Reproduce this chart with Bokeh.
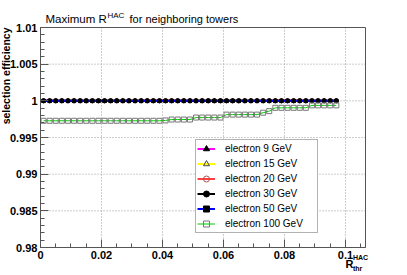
from bokeh.plotting import figure
from bokeh.models import (Range1d, FixedTicker, CustomJSTickFormatter, Label, Legend,
                          LegendItem, LinearAxis)
from bokeh.embed import file_html
from bokeh.resources import INLINE
from math import pi

# ---------------- data ----------------
r_thr = [0.001, 0.003, 0.005, 0.007, 0.009, 0.011, 0.013, 0.015, 0.017, 0.019,
         0.021, 0.023, 0.025, 0.027, 0.029, 0.031, 0.033, 0.035, 0.037, 0.039,
         0.041, 0.043, 0.045, 0.047, 0.049, 0.051, 0.053, 0.055, 0.057, 0.059,
         0.061, 0.063, 0.065, 0.067, 0.069, 0.071, 0.073, 0.075, 0.077, 0.079,
         0.081, 0.083, 0.085, 0.087, 0.089, 0.091, 0.093, 0.095, 0.097]

eff_9 = [1.0, 1.0, 1.0, 1.0, 1.0, 1.0, 1.0, 1.0, 1.0, 1.0,
         1.0, 1.0, 1.0, 1.0, 1.0, 1.0, 1.0, 1.0, 1.0, 1.0,
         1.0, 1.0, 1.0, 1.0, 1.0, 1.0, 1.0, 1.0, 1.0, 1.0,
         1.0, 1.0, 1.0, 1.0, 1.0, 1.0, 1.0, 1.0, 1.0, 1.0,
         1.0, 1.0, 1.0, 1.0, 1.0, 1.0, 1.0, 1.0, 1.0]
eff_15 = list(eff_9)
eff_20 = list(eff_9)
eff_30 = list(eff_9)
eff_50 = list(eff_9)
eff_100 = [0.99728, 0.99728, 0.99728, 0.99728, 0.99728, 0.99728, 0.99728, 0.99728, 0.99728, 0.99728,
           0.99728, 0.99728, 0.99728, 0.99728, 0.99728, 0.99728, 0.99728, 0.99728, 0.99728, 0.99728,
           0.99733, 0.99745, 0.99745, 0.99745, 0.99745, 0.99772, 0.99772, 0.99772, 0.99772, 0.99772,
           0.99812, 0.99812, 0.99812, 0.99812, 0.99812, 0.99812, 0.99838, 0.99860, 0.99905, 0.99905,
           0.99905, 0.99905, 0.99905, 0.99905, 0.99938, 0.99938, 0.99938, 0.99938, 0.99938]

labels = ["electron 9 GeV", "electron 15 GeV", "electron 20 GeV",
          "electron 30 GeV", "electron 50 GeV", "electron 100 GeV"]

x_ticks = [0.0, 0.02, 0.04, 0.06, 0.08, 0.1]
x_minor = [0.005, 0.01, 0.015, 0.025, 0.03, 0.035, 0.045, 0.05, 0.055,
           0.065, 0.07, 0.075, 0.085, 0.09, 0.095, 0.105]
y_ticks = [0.98, 0.985, 0.99, 0.995, 1.0, 1.005, 1.01]
y_minor = [0.981, 0.982, 0.983, 0.984, 0.986, 0.987, 0.988, 0.989,
           0.991, 0.992, 0.993, 0.994, 0.996, 0.997, 0.998, 0.999,
           1.001, 1.002, 1.003, 1.004, 1.006, 1.007, 1.008, 1.009]

# axis limits of the plotting box
X0, X1 = 0.0, 0.10656
Y0, Y1 = 0.98, 1.01

# ---------------- layout (pixels) ----------------
W, H = 407, 275
BOX_L, BOX_R, BOX_T, BOX_B = 40, 365, 27, 247
kx = (X1 - X0) / (BOX_R - BOX_L)
ky = (Y1 - Y0) / (BOX_B - BOX_T)

FONT = "Liberation Sans"
AX = "#555555"

p = figure(width=W, height=H, output_backend="svg", toolbar_location=None,
           x_range=Range1d(X0 - BOX_L * kx, X1 + (W - BOX_R) * kx),
           y_range=Range1d(Y0 - (H - BOX_B) * ky, Y1 + BOX_T * ky),
           x_axis_type=None, y_axis_type=None, min_border=0,
           background_fill_color="white", border_fill_color="white")
p.outline_line_color = None

# grid (dotted, at interior major ticks)
xg = x_ticks[1:]
yg = y_ticks[1:-1]
p.segment(x0=xg, y0=[Y0] * len(xg), x1=xg, y1=[Y1] * len(xg),
          line_color="#9a9a9a", line_dash="1 2", line_width=1)
p.segment(x0=[X0] * len(yg), y0=yg, x1=[X1] * len(yg), y1=yg,
          line_color="#9a9a9a", line_dash="1 2", line_width=1)

# frame box
p.quad(left=[X0], right=[X1], bottom=[Y0], top=[Y1],
       fill_color=None, line_color=AX, line_width=1)

# ---------------- series ----------------
series = [
    (eff_9, "#ff00ff", "triangle", "black", "black", 2, 4),
    (eff_15, "#ffff00", "triangle", None, "#444444", 2, 4),
    (eff_20, "#ff4040", "circle", None, "#aa5555", 2, 4),
    (eff_30, "black", "circle", "black", "black", 2, 4),
    (eff_50, "#0000ff", "square", "black", "black", 2, 3.5),
    (eff_100, "#00cc00", "square", None, "#777777", 1, 5),
]
items = []
for (vals, lc, mk, fill, mline, lw, ms), lab_txt in zip(series, labels):
    r1 = p.line(r_thr, vals, line_color=lc, line_width=lw)
    r2 = p.scatter(r_thr, vals, marker=mk, size=ms,
                   fill_color=fill if fill else "white",
                   fill_alpha=1.0 if fill else 0.0,
                   line_color=mline, line_width=1)
    items.append(LegendItem(label=lab_txt, renderers=[r1, r2]))

# ---------------- axes ----------------
fmt = CustomJSTickFormatter(code="return tick.toFixed(3).replace(/0+$/,'').replace(/\\.$/,'');")

def style_axis(ax):
    ax.formatter = fmt
    ax.major_label_text_font = FONT
    ax.major_label_text_font_style = "bold"
    ax.major_label_text_font_size = "11px"
    ax.major_label_text_color = "black"
    ax.axis_line_color = AX
    ax.major_tick_line_color = AX
    ax.minor_tick_line_color = AX
    ax.major_tick_in = 8
    ax.major_tick_out = 0
    ax.minor_tick_in = 4
    ax.minor_tick_out = 0
    ax.major_label_standoff = 3

xa = LinearAxis(fixed_location=Y0, bounds=(X0, X1),
                ticker=FixedTicker(ticks=x_ticks, minor_ticks=x_minor))
style_axis(xa)
p.add_layout(xa, "below")

ya = LinearAxis(fixed_location=X0, bounds=(Y0, Y1),
                ticker=FixedTicker(ticks=y_ticks, minor_ticks=y_minor))
style_axis(ya)
p.add_layout(ya, "left")

# ---------------- legend ----------------
legend = Legend(items=items, location=(195, H - 233),
                label_text_font=FONT, label_text_font_size="10px", label_text_color="black",
                glyph_width=18, glyph_height=15, label_height=15, label_width=91,
                label_standoff=10, spacing=0, padding=1, margin=0,
                border_line_color="#666666", border_line_width=1,
                background_fill_color="white", background_fill_alpha=1.0)
p.add_layout(legend, "center")

# ---------------- texts ----------------
def lab(x, y, text, size, style="normal", align="left", angle=0.0):
    p.add_layout(Label(x=x, y=H - y, x_units="screen", y_units="screen", text=text,
                       text_font=FONT, text_font_size=size, text_font_style=style,
                       text_color="black", text_align=align, text_baseline="middle",
                       angle=angle))

# title (positions in pixels from the top-left corner)
lab(45, 18.5, "Maximum R", "11.5px")
lab(107, 14.5, "HAC", "8px")
lab(129, 18.5, "for neighboring towers", "11px")
# y axis title
lab(5.5, 27, "selection efficiency", "10.5px", "bold", "right", pi / 2)
# x axis title
lab(345, 263, "R", "11px", "bold")
lab(352.5, 257, "HAC", "7px", "bold")
lab(352.5, 268, "thr", "7px", "bold")

open("out.html", "w").write(file_html(p, INLINE))
